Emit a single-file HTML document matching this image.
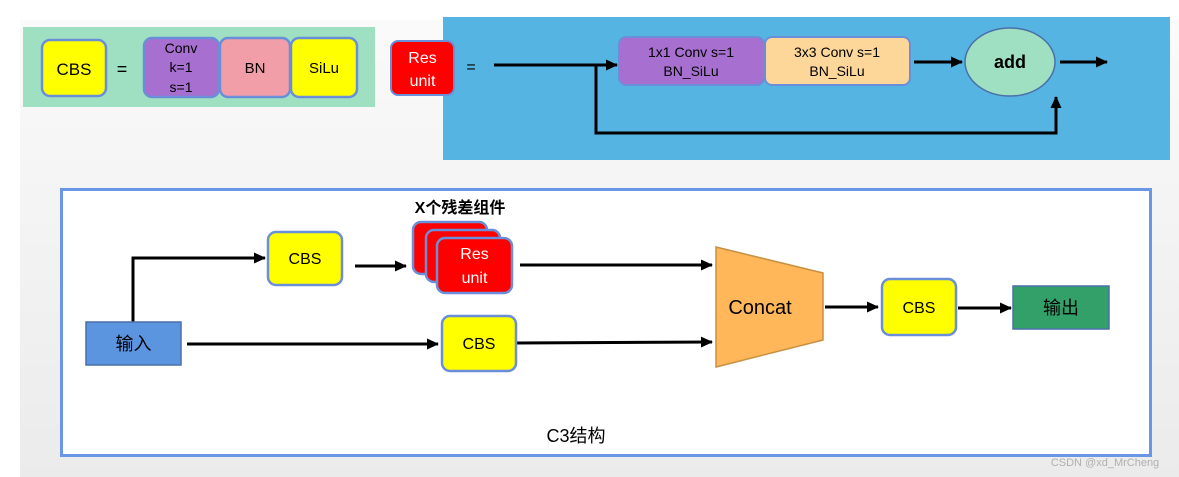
<!DOCTYPE html>
<html><head><meta charset="utf-8"><style>
html,body{margin:0;padding:0;background:#fff}
svg{display:block}
text{font-family:"Liberation Sans","Noto Sans CJK SC",sans-serif}
</style></head><body>
<svg width="1179" height="477" viewBox="0 0 1179 477" xmlns="http://www.w3.org/2000/svg">
<defs>
<linearGradient id="bg" x1="0" y1="0" x2="0" y2="1"><stop offset="0" stop-color="#fafafa"/><stop offset="1" stop-color="#ebebeb"/></linearGradient>
<marker id="ah" markerWidth="12" markerHeight="12" refX="11" refY="6" orient="auto" markerUnits="userSpaceOnUse"><path d="M0,0.5 L12,6 L0,11.5 z" fill="#000"/></marker>
</defs>
<rect x="20" y="20" width="1159" height="457" fill="url(#bg)"/>
<rect x="23" y="27" width="352" height="80" fill="#9ee0c1"/>
<g stroke="#6a8fd8" stroke-width="2.5">
<rect x="42" y="40" width="64" height="56" rx="8" fill="#ffff00"/>
<rect x="144" y="38" width="75" height="59" rx="8" fill="#a66fd0"/>
<rect x="220" y="38" width="70" height="59" rx="8" fill="#f29ea8"/>
<rect x="291" y="38" width="66" height="59" rx="8" fill="#ffff00"/>
</g>
<text x="74" y="75" font-size="17" text-anchor="middle">CBS</text>
<text x="122" y="75" font-size="18" text-anchor="middle">=</text>
<text x="181" y="53" font-size="14" text-anchor="middle">Conv</text>
<text x="181" y="72" font-size="14" text-anchor="middle">k=1</text>
<text x="181" y="92" font-size="14" text-anchor="middle">s=1</text>
<text x="255" y="73" font-size="15" text-anchor="middle">BN</text>
<text x="324" y="73" font-size="15" text-anchor="middle">SiLu</text>
<rect x="443" y="17" width="727" height="143" fill="#56b4e3"/>
<rect x="391" y="41" width="63" height="54" rx="7" fill="#ff0000" stroke="#6a8fd8" stroke-width="2"/>
<text x="422.5" y="63" font-size="16" fill="#fff" text-anchor="middle">Res</text>
<text x="422.5" y="86" font-size="16" fill="#fff" text-anchor="middle">unit</text>
<text x="471" y="72" font-size="16" text-anchor="middle">=</text>
<g stroke="#000" stroke-width="3" fill="none">
<line x1="494" y1="65" x2="617" y2="65" marker-end="url(#ah)"/>
<polyline points="596,65 596,133 1056,133 1056,97" marker-end="url(#ah)"/>
<line x1="914" y1="62" x2="962" y2="62" marker-end="url(#ah)"/>
<line x1="1060" y1="62" x2="1107" y2="62" marker-end="url(#ah)"/>
</g>
<g stroke="#6a8fd8" stroke-width="2">
<rect x="619" y="37" width="145" height="48" rx="7" fill="#a66fd0"/>
<rect x="765" y="37" width="145" height="48" rx="7" fill="#fdd699"/>
</g>
<text x="691" y="57" font-size="14" text-anchor="middle">1x1 Conv  s=1</text>
<text x="691" y="76" font-size="14" text-anchor="middle">BN_SiLu</text>
<text x="837" y="57" font-size="14" text-anchor="middle">3x3 Conv s=1</text>
<text x="837" y="76" font-size="14" text-anchor="middle">BN_SiLu</text>
<ellipse cx="1010" cy="62" rx="45" ry="34" fill="#9ee0c1" stroke="#4a70a8" stroke-width="1.5"/>
<text x="1010" y="68" font-size="18" font-weight="bold" text-anchor="middle">add</text>
<rect x="61.5" y="189.5" width="1089" height="266" fill="#fff" stroke="#6a96e6" stroke-width="3"/>
<text x="460" y="213" font-size="16" font-weight="bold" text-anchor="middle">X个残差组件</text>
<g stroke="#000" stroke-width="3" fill="none">
<polyline points="133,322 133,258 265,258" marker-end="url(#ah)"/>
<line x1="355" y1="266" x2="406" y2="266" marker-end="url(#ah)"/>
<line x1="520" y1="265" x2="712" y2="265" marker-end="url(#ah)"/>
<line x1="187" y1="344" x2="438" y2="344" marker-end="url(#ah)"/>
<line x1="516" y1="343" x2="712" y2="342" marker-end="url(#ah)"/>
<line x1="825" y1="307" x2="878" y2="307" marker-end="url(#ah)"/>
<line x1="958" y1="308" x2="1011" y2="308" marker-end="url(#ah)"/>
</g>
<g stroke="#6a8fd8" stroke-width="2.5">
<rect x="268" y="232" width="74" height="53" rx="8" fill="#ffff00"/>
<rect x="413" y="222" width="74" height="52" rx="8" fill="#ff0000"/>
<rect x="426" y="230" width="74" height="52" rx="8" fill="#ff0000"/>
<rect x="437" y="238" width="75" height="55" rx="8" fill="#ff0000"/>
<rect x="442" y="316" width="74" height="55" rx="8" fill="#ffff00"/>
<rect x="882" y="279" width="74" height="56" rx="8" fill="#ffff00"/>
</g>
<text x="305" y="264" font-size="16" text-anchor="middle">CBS</text>
<text x="474.5" y="259" font-size="16" fill="#fff" text-anchor="middle">Res</text>
<text x="474.5" y="283" font-size="16" fill="#fff" text-anchor="middle">unit</text>
<text x="479" y="349" font-size="16" text-anchor="middle">CBS</text>
<text x="919" y="313" font-size="16" text-anchor="middle">CBS</text>
<rect x="86" y="322" width="95" height="43" fill="#5b95e0" stroke="#4a6fa8" stroke-width="1.5"/>
<text x="133.5" y="350" font-size="18" text-anchor="middle">输入</text>
<polygon points="716,247 823,273 823,340 716,367" fill="#ffb75a" stroke="#c89040" stroke-width="1.5"/>
<text x="760" y="314" font-size="20" text-anchor="middle">Concat</text>
<rect x="1013" y="286" width="96" height="43" fill="#33a06a" stroke="#4a6fa8" stroke-width="1.5"/>
<text x="1061" y="314" font-size="18" text-anchor="middle">输出</text>
<text x="576" y="442" font-size="18" text-anchor="middle">C3结构</text>
<text x="1105" y="466" font-size="11" fill="#b0b0b0" text-anchor="middle">CSDN @xd_MrCheng</text>
</svg>
</body></html>
